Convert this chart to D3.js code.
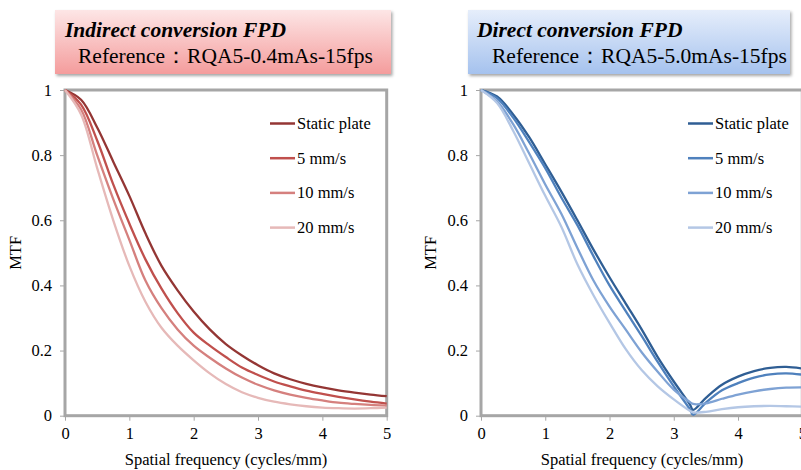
<!doctype html>
<html lang="en">
<head>
<meta charset="utf-8">
<script src="https://d3js.org/d3.v7.min.js"></script>
<style>
    body { margin: 0; background: #fff; }
    text { font-family: "Liberation Serif", "Times New Roman", serif; fill: #000; }
</style>
</head>
<body>
<div id="chart"></div>
<script>
    // spatial frequency (cycles/mm)
    var freqIndirect = [0, 0.25, 0.5, 0.75, 1, 1.25, 1.5, 1.75, 2, 2.25, 2.5, 2.75, 3, 3.25, 3.5, 3.75, 4, 4.25, 4.5, 4.75, 5];
    var freqDirect = [0, 0.25, 0.5, 0.75, 1, 1.25, 1.5, 1.75, 2, 2.25, 2.5, 2.75, 3, 3.25, 3.3, 3.5, 3.75, 4, 4.25, 4.5, 4.75, 5];

    var seriesNames = ["Static plate", "5 mm/s", "10 mm/s", "20 mm/s"];

    // indirect conversion FPD, MTF
    var indStatic = [1, 0.97, 0.885, 0.78, 0.675, 0.56, 0.46, 0.385, 0.32, 0.265, 0.22, 0.185, 0.155, 0.13, 0.112, 0.098, 0.087, 0.078, 0.071, 0.065, 0.06];
    var ind5 = [1, 0.955, 0.845, 0.71, 0.59, 0.48, 0.39, 0.315, 0.255, 0.215, 0.18, 0.148, 0.125, 0.105, 0.09, 0.077, 0.067, 0.058, 0.05, 0.043, 0.037];
    var ind10 = [1, 0.94, 0.8, 0.665, 0.54, 0.415, 0.33, 0.265, 0.215, 0.178, 0.145, 0.117, 0.095, 0.078, 0.065, 0.055, 0.047, 0.04, 0.036, 0.033, 0.031];
    var ind20 = [1, 0.925, 0.76, 0.6, 0.46, 0.35, 0.27, 0.215, 0.17, 0.13, 0.097, 0.072, 0.055, 0.043, 0.035, 0.029, 0.025, 0.023, 0.022, 0.023, 0.025];

    // direct conversion FPD, MTF
    var dirStatic = [1, 0.98, 0.925, 0.855, 0.772, 0.688, 0.6, 0.51, 0.425, 0.345, 0.265, 0.18, 0.105, 0.035, 0.018, 0.055, 0.095, 0.12, 0.137, 0.147, 0.15, 0.145];
    var dir5 = [1, 0.975, 0.915, 0.84, 0.76, 0.67, 0.585, 0.49, 0.4, 0.322, 0.245, 0.165, 0.09, 0.02, 0.003, 0.04, 0.078, 0.1, 0.117, 0.127, 0.13, 0.126];
    var dir10 = [1, 0.965, 0.895, 0.805, 0.71, 0.62, 0.515, 0.415, 0.335, 0.265, 0.195, 0.135, 0.08, 0.042, 0.036, 0.038, 0.052, 0.065, 0.075, 0.082, 0.086, 0.087];
    var dir20 = [1, 0.96, 0.875, 0.775, 0.675, 0.58, 0.465, 0.37, 0.285, 0.205, 0.14, 0.09, 0.05, 0.015, 0.01, 0.012, 0.02, 0.026, 0.029, 0.03, 0.029, 0.028];

    var xTicks = [0, 1, 2, 3, 4, 5];
    var yTicks = [0, 0.2, 0.4, 0.6, 0.8, 1];

    var svg = d3.select("#chart")
        .append("svg")
        .attr("width", 801)
        .attr("height", 470);

    var defs = svg.append("defs");

    function addGradient(id, top, bottom) {
        var g = defs.append("linearGradient")
            .attr("id", id)
            .attr("x1", 0).attr("y1", 0).attr("x2", 0).attr("y2", 1);
        g.append("stop").attr("offset", "0%").attr("stop-color", top);
        g.append("stop").attr("offset", "100%").attr("stop-color", bottom);
    }
    addGradient("pinkGrad", "#fde6e6", "#f49c9c");
    addGradient("blueGrad", "#e6eefb", "#a5c2ee");

    defs.append("filter")
        .attr("id", "shadow")
        .attr("x", "-5%").attr("y", "-10%").attr("width", "110%").attr("height", "130%")
        .append("feDropShadow")
        .attr("dx", 1.5).attr("dy", 2)
        .attr("stdDeviation", 1.5)
        .attr("flood-color", "#000")
        .attr("flood-opacity", 0.35);

    function drawPanel(opt) {
        var g = svg.append("g");

        // title box
        g.append("rect")
            .attr("x", opt.box[0]).attr("y", opt.box[1])
            .attr("width", opt.box[2]).attr("height", opt.box[3])
            .attr("fill", "url(#" + opt.grad + ")")
            .attr("filter", "url(#shadow)");
        g.append("text")
            .attr("x", opt.titleX).attr("y", 37)
            .style("font-size", "21.5px")
            .style("font-weight", "bold")
            .style("font-style", "italic")
            .text(opt.title);
        g.append("text")
            .attr("x", opt.refX).attr("y", 63)
            .style("font-size", "21.5px")
            .text(opt.reference);

        var x = d3.scaleLinear().domain([0, 5]).range(opt.xRange);
        var y = d3.scaleLinear().domain([0, 1]).range([415.7, 90]);

        // plot frame
        g.append("rect")
            .attr("x", x(0)).attr("y", y(1))
            .attr("width", x(5) - x(0)).attr("height", y(0) - y(1))
            .attr("fill", "none")
            .attr("stroke", "#a6a6a6")
            .attr("stroke-width", 3);

        var yAxis = g.append("g")
            .attr("transform", "translate(" + x(0) + ",0)")
            .call(d3.axisLeft(y).tickValues(yTicks).tickSize(5).tickPadding(8).tickFormat(d3.format("")));
        var xAxis = g.append("g")
            .attr("transform", "translate(0," + y(0) + ")")
            .call(d3.axisBottom(x).tickValues(xTicks).tickSize(5).tickPadding(7).tickFormat(d3.format("")));
        [xAxis, yAxis].forEach(function (a) {
            a.select(".domain").remove();
            a.selectAll(".tick line").attr("stroke", "#a6a6a6");
            a.selectAll(".tick text")
                .style("font-family", "'Liberation Serif', 'Times New Roman', serif")
                .style("font-size", "16.5px")
                .attr("fill", "#000");
        });

        // axis titles
        g.append("text")
            .attr("x", x(0) + 161)
            .attr("y", 465)
            .style("font-size", "16.5px")
            .style("text-anchor", "middle")
            .text("Spatial frequency (cycles/mm)");
        g.append("text")
            .attr("transform", "translate(" + opt.mtfX + "," + (y(0) + y(1)) / 2 + ") rotate(-90)")
            .style("font-size", "16.5px")
            .style("text-anchor", "middle")
            .text("MTF");

        var line = d3.line()
            .x(function (d) { return x(d[0]); })
            .y(function (d) { return y(d[1]); })
            .curve(d3.curveCatmullRom.alpha(0.5));

        opt.series.forEach(function (s, i) {
            var pts = opt.freq.map(function (f, j) { return [f, s[j]]; });
            g.append("path")
                .datum(pts)
                .attr("fill", "none")
                .attr("stroke", opt.colors[i])
                .attr("stroke-width", 2.3)
                .attr("d", line);
        });

        // legend
        seriesNames.forEach(function (name, i) {
            var ly = 123.5 + i * 34.7;
            g.append("line")
                .attr("x1", opt.legendX).attr("x2", opt.legendX + 25)
                .attr("y1", ly).attr("y2", ly)
                .attr("stroke", opt.colors[i])
                .attr("stroke-width", 2.5);
            g.append("text")
                .attr("x", opt.legendX + 27)
                .attr("y", ly + 5.5)
                .style("font-size", "16.5px")
                .text(name);
        });
    }

    drawPanel({
        box: [55, 10, 336, 64],
        grad: "pinkGrad",
        title: "Indirect conversion FPD",
        titleX: 65,
        reference: "Reference\uff1aRQA5-0.4mAs-15fps",
        refX: 78,
        xRange: [65, 386.7],
        mtfX: 21,
        legendX: 270,
        freq: freqIndirect,
        series: [indStatic, ind5, ind10, ind20],
        colors: ["#943634", "#c0504d", "#d5807e", "#e6b9b8"]
    });

    drawPanel({
        box: [468, 10, 322, 64],
        grad: "blueGrad",
        title: "Direct conversion FPD",
        titleX: 477,
        reference: "Reference\uff1aRQA5-5.0mAs-15fps",
        refX: 492,
        xRange: [481, 802.3],
        mtfX: 436,
        legendX: 688,
        freq: freqDirect,
        series: [dirStatic, dir5, dir10, dir20],
        colors: ["#2f5e94", "#4f81bd", "#7ea2d4", "#b4c7e5"]
    });
</script>
</body>
</html>
